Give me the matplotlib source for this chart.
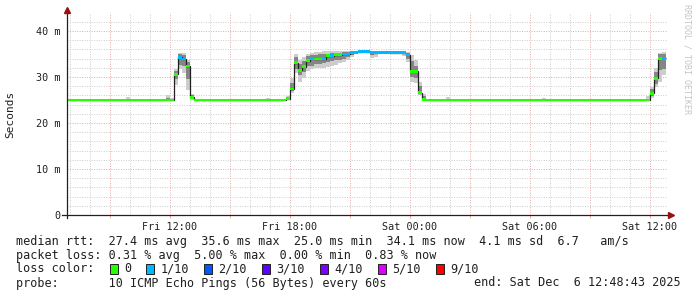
import numpy as np
import matplotlib
matplotlib.use("Agg")
import matplotlib.pyplot as plt
import matplotlib.dates as mdates
from matplotlib.patches import Rectangle
from matplotlib.ticker import FuncFormatter
from datetime import datetime, timedelta

# 12 minute consolidated steps, first step starts Fri 06:48
bin_start = datetime(2025, 12, 5, 6, 48)
bin_minutes = 12
view_start = datetime(2025, 12, 5, 6, 52, 30)
view_end = datetime(2025, 12, 6, 12, 52, 30)

# median rtt per step (ms)
median_ms = [
    25.0, 25.0, 25.0, 25.0, 25.0, 25.0, 25.0, 25.0, 25.0, 25.0,
    25.0, 25.0, 25.0, 25.0, 25.0, 25.0, 25.0, 25.0, 25.0, 25.0,
    25.0, 25.0, 25.0, 25.0, 25.0, 25.0, 25.0, 30.6, 34.3, 33.9,
    32.4, 25.6, 25.0, 25.0, 25.0, 25.0, 25.0, 25.0, 25.0, 25.0,
    25.0, 25.0, 25.0, 25.0, 25.0, 25.0, 25.0, 25.0, 25.0, 25.0,
    25.0, 25.0, 25.0, 25.0, 25.0, 25.3, 27.4, 33.1, 31.5, 32.2,
    33.5, 34.1, 33.9, 33.9, 33.9, 34.6, 34.6, 34.8, 34.8, 35.0,
    35.0, 35.3, 35.4, 35.5, 35.6, 35.5, 35.3, 35.3, 35.4, 35.4,
    35.4, 35.3, 35.3, 35.3, 35.3, 34.8, 31.2, 31.2, 26.6, 25.2,
    25.0, 25.0, 25.0, 25.0, 25.0, 25.0, 25.0, 25.0, 25.0, 25.0,
    25.0, 25.0, 25.0, 25.0, 25.0, 25.0, 25.0, 25.0, 25.0, 25.0,
    25.0, 25.0, 25.0, 25.0, 25.0, 25.0, 25.0, 25.0, 25.0, 25.0,
    25.0, 25.0, 25.0, 25.0, 25.0, 25.0, 25.0, 25.0, 25.0, 25.0,
    25.0, 25.0, 25.0, 25.0, 25.0, 25.0, 25.0, 25.0, 25.0, 25.0,
    25.0, 25.0, 25.0, 25.0, 25.0, 25.0, 26.5, 29.7, 34.1, 34.1,
]

# lost pings out of 10 per step
loss_count = [
    0, 0, 0, 0, 0, 0, 0, 0, 0, 0,
    0, 0, 0, 0, 0, 0, 0, 0, 0, 0,
    0, 0, 0, 0, 0, 0, 0, 0, 1, 1,
    0, 0, 0, 0, 0, 0, 0, 0, 0, 0,
    0, 0, 0, 0, 0, 0, 0, 0, 0, 0,
    0, 0, 0, 0, 0, 0, 0, 0, 0, 0,
    0, 1, 0, 0, 1, 0, 1, 0, 0, 1,
    1, 1, 1, 1, 1, 1, 1, 1, 1, 1,
    1, 1, 1, 1, 1, 1, 0, 0, 0, 0,
    0, 0, 0, 0, 0, 0, 0, 0, 0, 0,
    0, 0, 0, 0, 0, 0, 0, 0, 0, 0,
    0, 0, 0, 0, 0, 0, 0, 0, 0, 0,
    0, 0, 0, 0, 0, 0, 0, 0, 0, 0,
    0, 0, 0, 0, 0, 0, 0, 0, 0, 0,
    0, 0, 0, 0, 0, 0, 0, 0, 0, 1,
]

# smoke: spread of the single pings (outer) and the central pings (core)
smoke_bins = [15, 25, 26, 27, 28, 29, 30, 31, 50, 55, 56, 57, 58, 59, 60, 61, 62,
              63, 64, 65, 66, 67, 68, 69, 70, 71, 76, 77, 84, 85, 86, 87, 88, 89,
              95, 119, 145, 146, 147, 148, 149]
smoke_lo = [25.0, 25.0, 25.0, 28.3, 31.7, 30.8, 27.2, 25.0, 25.0, 25.0, 26.5, 30.8,
            29.0, 29.7, 31.2, 31.7, 31.9, 31.9, 32.0, 32.2, 32.4, 32.7, 33.0, 33.3,
            33.7, 34.3, 34.2, 34.4, 34.6, 33.3, 29.0, 28.6, 26.1, 25.0, 25.0, 25.0,
            25.0, 25.4, 27.9, 29.0, 30.5]
smoke_hi = [25.7, 26.1, 25.5, 31.8, 35.3, 35.2, 33.7, 26.4, 25.4, 25.8, 29.7, 35.0,
            33.8, 34.4, 35.0, 35.3, 35.5, 35.5, 35.6, 35.6, 35.7, 35.6, 35.6, 35.6,
            35.6, 35.6, 35.6, 35.6, 35.6, 35.5, 34.8, 33.7, 29.0, 26.2, 25.6, 25.4,
            25.8, 27.9, 31.9, 35.3, 35.5]
core_lo = [25.0, 25.0, 25.0, 29.6, 32.6, 32.3, 29.5, 25.2, 25.0, 25.0, 26.9, 31.8,
           30.5, 31.0, 32.3, 32.5, 32.8, 32.8, 33.0, 33.2, 33.4, 33.6, 33.8, 34.0,
           34.3, 34.8, 34.8, 35.0, 35.0, 34.0, 30.0, 29.7, 26.3, 25.1, 25.0, 25.0,
           25.0, 25.8, 28.5, 31.5, 31.8]
core_hi = [25.0, 25.4, 25.2, 31.2, 35.0, 34.8, 33.3, 26.0, 25.0, 25.3, 28.6, 34.3,
           32.9, 33.5, 34.5, 34.8, 34.8, 34.9, 35.0, 35.1, 35.2, 35.2, 35.3, 35.4,
           35.4, 35.5, 35.5, 35.5, 35.5, 35.2, 33.5, 32.5, 28.0, 25.8, 25.2, 25.1,
           25.3, 27.3, 31.0, 35.0, 35.0]

loss_labels = ['0', '1/10', '2/10', '3/10', '4/10', '5/10', '9/10']
loss_colors = ['#26ff00', '#00b8ff', '#0059ff', '#5e00ff', '#7e00ff', '#dd00ff', '#ff0000']
loss_limits = [0, 1, 2, 3, 4, 5, 9]

legend_lines = [
    'median rtt:  27.4 ms avg  35.6 ms max  25.0 ms min  34.1 ms now  4.1 ms sd  6.7   am/s',
    'packet loss: 0.31 % avg  5.00 % max  0.00 % min  0.83 % now',
    'loss color:',
    'probe:       10 ICMP Echo Pings (56 Bytes) every 60s',
]
end_text = 'end: Sat Dec  6 12:48:43 2025'

plt.rcParams['font.family'] = 'DejaVu Sans Mono'
W, H = 697, 297
fig = plt.figure(figsize=(W / 100, H / 100), dpi=100)
ax = fig.add_axes([67 / W, (H - 215) / H, 600 / W, 202.4 / H])

edges = mdates.date2num([bin_start + timedelta(minutes=bin_minutes * i)
                         for i in range(len(median_ms) + 1)])
step_w = edges[1] - edges[0]
med = np.array(median_ms)

# grid
minor_c, major_c = '#cccccc', '#e6a8a8'
t = datetime(2025, 12, 5, 7)
while t <= view_end:
    c = major_c if t.hour % 3 == 0 else minor_c
    ax.axvline(mdates.date2num(t), color=c, lw=0.7, ls=(0, (1, 1.5)), zorder=0)
    t += timedelta(hours=1)
for v in range(2, 44, 2):
    c = major_c if v % 10 == 0 else minor_c
    ax.axhline(v, color=c, lw=0.7, ls=(0, (1, 1.5)), zorder=0)

# smoke
sb = np.array(smoke_bins)
ax.bar(edges[sb], np.array(smoke_hi) - np.array(smoke_lo), bottom=smoke_lo,
       width=step_w, align='edge', color='#cdcdcd', linewidth=0, zorder=1)
ax.bar(edges[sb], np.array(core_hi) - np.array(core_lo), bottom=core_lo,
       width=step_w, align='edge', color='#858585', linewidth=0, zorder=2)

# median line and loss colour markers
ax.stairs(med, edges, color='#202020', lw=0.9, baseline=None, zorder=3)
def loss_color(n):
    idx = max(i for i, lim in enumerate(loss_limits) if n >= lim)
    return loss_colors[idx]
cols = [loss_color(n) for n in loss_count]
ax.bar(edges[:-1], 0.62, bottom=med - 0.31, width=step_w, align='edge',
       color=cols, linewidth=0, zorder=4)

ax.set_xlim(view_start, view_end)
ax.set_ylim(0, 44)
for s in ax.spines.values():
    s.set_visible(False)

ax.xaxis.set_major_locator(mdates.HourLocator(byhour=[0, 6, 12, 18]))
ax.xaxis.set_major_formatter(mdates.DateFormatter('%a %H:%M'))
ax.xaxis.set_minor_locator(mdates.HourLocator(byhour=range(0, 24, 3)))
ax.set_yticks([0, 10, 20, 30, 40])
ax.yaxis.set_major_formatter(FuncFormatter(lambda v, p: '0' if v == 0 else '%d m' % v))
ax.tick_params(axis='x', which='both', length=2.5, color=major_c, pad=2.5,
               labelsize=7.3, labelcolor='#202020')
ax.tick_params(axis='y', length=0, pad=5, labelsize=7.3, labelcolor='#202020')

# axes lines with arrows
arrow_c = '#9a1010'
ax.plot([0, 0], [-0.015, 1.01], transform=ax.transAxes, color='#202020',
        lw=0.9, clip_on=False, zorder=5)
ax.plot([-0.008, 1.004], [0, 0], transform=ax.transAxes, color='#202020',
        lw=0.9, clip_on=False, zorder=5)
ax.plot([0], [1.013], marker='^', ms=4.5, color=arrow_c, transform=ax.transAxes,
        clip_on=False, zorder=6)
ax.plot([1.0067], [0], marker='>', ms=4.5, color=arrow_c, transform=ax.transAxes,
        clip_on=False, zorder=6)

fig.text(10.5 / W, 1 - 114 / H, 'Seconds', rotation=90, ha='center', va='center',
         fontsize=8, color='#202020')
fig.text(687 / W, 1 - 4 / H, 'RRDTOOL / TOBI OETIKER', rotation=270, ha='center',
         va='top', fontsize=6.0, color='#c4c4c4')

# legend block
line_y = [241, 255, 269, 283]
for s, y in zip(legend_lines, line_y):
    fig.text(16 / W, 1 - y / H, s, ha='left', va='center', fontsize=8.5,
             color='#202020')
fig.text(681 / W, 1 - 283 / H, end_text, ha='right', va='center', fontsize=8.5,
         color='#202020')
cw = 7.26
x = 109.5
for lab, c in zip(loss_labels, loss_colors):
    fig.patches.append(Rectangle((x / W, 1 - 274 / H), 8 / W, 10 / H,
                                 transform=fig.transFigure, facecolor=c,
                                 edgecolor='#202020', lw=0.7))
    fig.text((x + 14.5) / W, 1 - 269 / H, lab, ha='left', va='center',
             fontsize=8.5, color='#202020')
    x += (len(lab) + 4) * cw

fig.savefig('out.png', dpi=100)
